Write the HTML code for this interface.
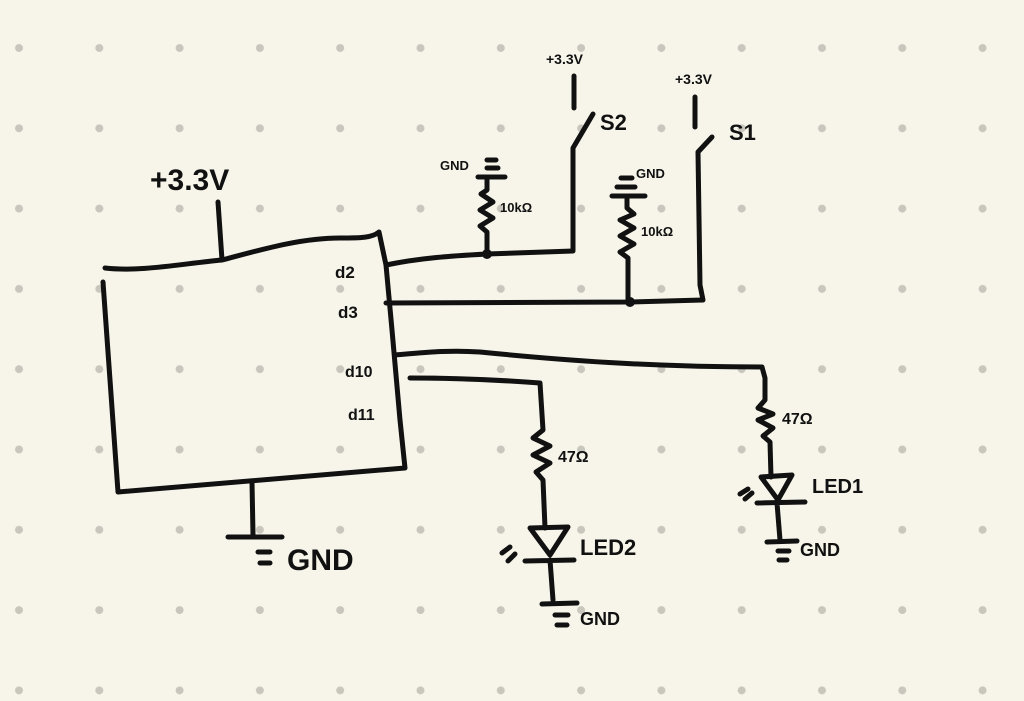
<!DOCTYPE html>
<html><head><meta charset="utf-8"><style>
html,body{margin:0;padding:0;background:#f7f5ea;}
svg{display:block}
text{font-family:"Liberation Sans",sans-serif;font-weight:bold;fill:#111}
</style></head><body>
<svg width="1024" height="701" viewBox="0 0 1024 701" xmlns="http://www.w3.org/2000/svg">
<defs>
<pattern id="dots" x="0" y="0" width="80.3" height="80.3" patternUnits="userSpaceOnUse" patternTransform="translate(-21,8)">
<circle cx="40" cy="40" r="4" fill="#c9c6bd"/>
</pattern>
</defs>
<rect width="1024" height="701" fill="#f7f5ea"/>
<rect width="1024" height="701" fill="url(#dots)"/>
<g fill="none" stroke="#111" stroke-width="5" stroke-linecap="round" stroke-linejoin="round">
<path d="M105,268 C140,272 180,264 222,260 C260,250 300,238 340,238 C360,238 372,238 379,232 L386,265 L392,330 L400,420 L405,468 L118,492 L103,282"/>
<path d="M218,202 L222,260"/>
<path d="M252,482 L253,535 M228,537 L282,537 M258,552 L270,552 M260,563 L270,563"/>
<path d="M386,265 C420,258 450,256 487,254 L573,251 L573,148 L593,114"/>
<path d="M574,76 L574,108"/>
<path d="M487,253 L487,232 L480,226 L493,218 L480,210 L493,202 L481,194 L487,190 L487,178 M478,177 L505,177 M487,168 L498,168 M487,160 L496,160"/>
<path d="M386,303 L630,302 L703,300 L700,285 L698,152 L712,137"/>
<path d="M695,97 L695,127"/>
<path d="M628,302 L628,258 L620,252 L634,244 L620,236 L634,228 L620,220 L634,214 L627,208 L627,196 M612,196 L645,196 M617,187 L635,187 M621,178 L632,178"/>
<path d="M395,355 C430,352 450,350 480,352 C560,360 650,367 762,367 L765,378 L765,400 L758,408 L773,414 L758,420 L773,428 L763,436 L770,442 L771,477"/>
<path d="M761,477 L792,475 L778,500 Z M757,503 L805,502 M777,503 L780,540 M767,542 L797,541 M778,551 L789,551 M779,560 L787,560"/>
<path d="M740,494 L748,489 M745,499 L752,493"/>
<path d="M410,378 C460,378 500,380 540,383 L543,430 L533,438 L550,446 L533,455 L550,463 L536,472 L543,480 L545,528"/>
<path d="M530,528 L568,527 L550,555 Z M525,561 L574,560 M550,560 L553,600 M542,604 L577,603 M555,615 L568,615 M557,625 L567,625"/>
<path d="M502,553 L510,547 M508,561 L515,554"/>
</g>
<circle cx="487" cy="254" r="5" fill="#111"/>
<circle cx="630" cy="302" r="5" fill="#111"/>
<text x="150" y="190" font-size="30" font-weight="normal">+3.3V</text>
<text x="335" y="278" font-size="17">d2</text>
<text x="338" y="318" font-size="17">d3</text>
<text x="345" y="377" font-size="16">d10</text>
<text x="348" y="420" font-size="16">d11</text>
<text x="546" y="64" font-size="14">+3.3V</text>
<text x="600" y="130" font-size="22">S2</text>
<text x="675" y="84" font-size="14">+3.3V</text>
<text x="729" y="140" font-size="22">S1</text>
<text x="440" y="170" font-size="13">GND</text>
<text x="636" y="178" font-size="13">GND</text>
<text x="500" y="212" font-size="13">10kΩ</text>
<text x="641" y="236" font-size="13">10kΩ</text>
<text x="782" y="424" font-size="16">47Ω</text>
<text x="558" y="462" font-size="16">47Ω</text>
<text x="812" y="493" font-size="20">LED1</text>
<text x="580" y="555" font-size="22">LED2</text>
<text x="800" y="556" font-size="18">GND</text>
<text x="580" y="625" font-size="18">GND</text>
<text x="287" y="570" font-size="30" font-weight="normal">GND</text>
</svg>
</body></html>
